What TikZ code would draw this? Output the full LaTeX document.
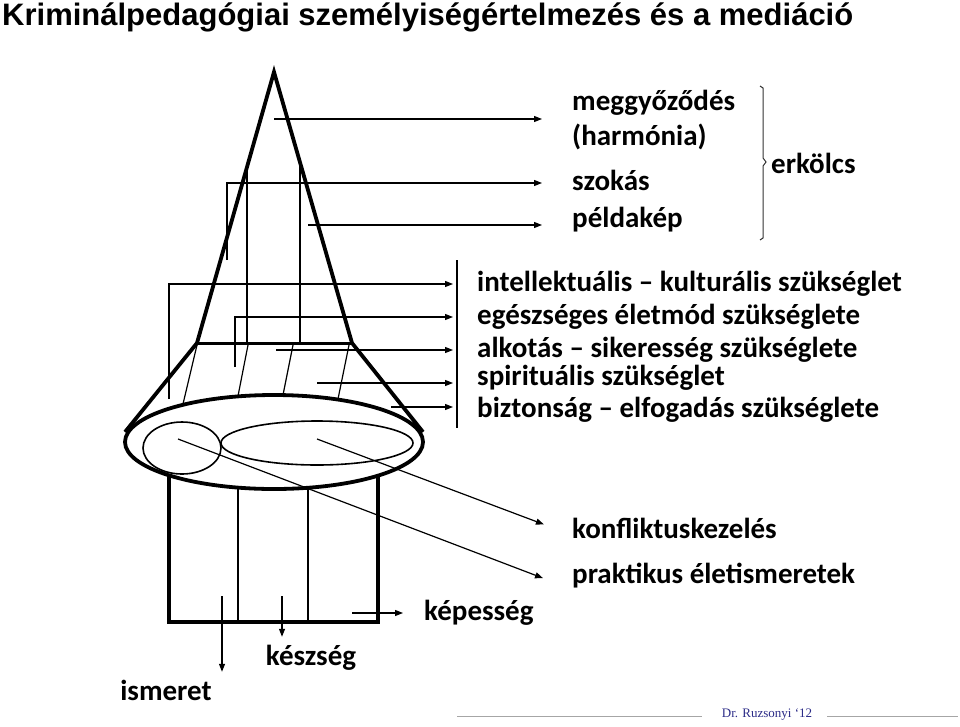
\documentclass[tikz,border=0pt]{standalone}
\usepackage{fontspec}
\setmainfont{Carlito}
\newfontfamily\titlefont{Liberation Sans}
\newfontfamily\footfont{Liberation Serif}
\usetikzlibrary{arrows.meta}
\definecolor{footblue}{RGB}{43,43,135}

\begin{document}
\begin{tikzpicture}[x=1pt, y=-1pt,
		heavy/.style={line width=3.8pt},
		fine/.style={line width=1.2pt},
		arr/.style={fine, -{Triangle[length=8pt,width=6pt]}},
		lbl/.style={font=\bfseries\fontsize{29}{35}\selectfont, inner sep=0pt, anchor=west},
		ln/.style={lbl, text height=20pt, text depth=6pt}]
		\useasboundingbox (0,0) rectangle (960,726);
		
		\node[anchor=base west, inner sep=0pt, font=\titlefont\bfseries\fontsize{31}{36}\selectfont] (title) at (2,25) {Kriminálpedagógiai személyiségértelmezés és a mediáció};
		
		\draw[heavy] (197,343) -- (274,72) -- (352,343);
		\draw[line width=3pt] (197,343) -- (352,343);
		\draw[heavy] (197,343) -- (125,432);
		\draw[heavy] (352,343) -- (423,432);
		\draw[heavy] (274,442) ellipse (149pt and 47pt);
		\draw[line width=1.6pt] (182,448) ellipse (39pt and 26pt);
		\draw[line width=1.6pt] (317,443) ellipse (96pt and 22pt);
		\draw[heavy] (169,475) -- (169,622) -- (378,622) -- (378,475);
		
		\draw[fine] (238,488) -- (238,622);
		\draw[fine] (308,488) -- (308,622);
		\draw[fine] (247,167) -- (247,343);
		\draw[fine] (300,162) -- (300,343);
		\draw[fine] (197,345) -- (183,404);
		\draw[fine] (248,345) -- (238,396);
		\draw[fine] (293,345) -- (283,395);
		\draw[fine] (349,345) -- (338,399);
		
		\node[lbl, align=left] (meggy) at (572,120) {meggyőződés\\(harmónia)};
		\node[ln] (szokas) at (572,183) {szokás};
		\node[ln] (pelda) at (572,220) {példakép};
		\node[ln] (erkolcs) at (771,166) {erkölcs};
		\draw[line width=1pt, black!80] (760,86) -- (763,88) -- (763,158) -- (766,162) -- (763,166) -- (763,238) -- (760,240);
		
		\coordinate (cMeggy) at (274,119);
		\coordinate (cSzokas) at (227,260);
		\coordinate (cPelda) at (308,225);
		\draw[arr, shorten >=30pt] (cMeggy) -- (cMeggy -| meggy.west);
		\draw[arr, shorten >=30pt] (cSzokas) |- (szokas.west);
		\draw[arr, shorten >=30pt] (cPelda) -- (cPelda -| pelda.west);
		
		\node[ln] (intel) at (477,284) {intellektuális – kulturális szükséglet};
		\node[ln] (egesz) at (477,317) {egészséges életmód szükséglete};
		\node[ln] (alkot) at (477,350) {alkotás – sikeresség szükséglete};
		\node[ln] (spir) at (477,378) {spirituális szükséglet};
		\node[ln] (bizt) at (477,410) {biztonság – elfogadás szükséglete};
		\coordinate (barTop) at (457,260);
		\coordinate (barBot) at (457,428);
		\draw[fine] (barTop) -- (barBot);
		
		\coordinate (cIntel) at (169,399);
		\coordinate (cEgesz) at (235,367);
		\coordinate (cAlkot) at (276,350);
		\coordinate (cSpir) at (317,383);
		\coordinate (cBizt) at (391,407);
		\draw[arr, shorten >=24pt] (cIntel) |- (intel.west);
		\draw[arr, shorten >=24pt] (cEgesz) |- (egesz.west);
		\draw[arr, shorten >=24pt] (cAlkot) -- (cAlkot -| alkot.west);
		\draw[arr, shorten >=24pt] (cSpir) -- (cSpir -| spir.west);
		\draw[arr, shorten >=24pt] (cBizt) -- (cBizt -| bizt.west);
		
		\node[ln] (konf) at (572,531) {konfliktuskezelés};
		\node[ln] (prak) at (572,576) {praktikus életismeretek};
		\node[ln] (kep) at (424,613) {képesség};
		\node[ln, anchor=base] (kes) at (311,665) {készség};
		\node[ln, anchor=base] (ism) at (166,700) {ismeret};
		
		\coordinate (cKonf) at (317,439);
		\coordinate (cPrak) at (178,439);
		\coordinate (cKep) at (352,613);
		\coordinate (cKes) at (282,596);
		\coordinate (cIsm) at (222,596);
		\draw[arr, shorten >=30pt] (cKonf) -- ([yshift=-4pt]konf.west);
		\draw[arr, shorten >=31pt] (cPrak) -- (prak.south west);
		\draw[arr, shorten >=21pt] (cKep) -- (kep.west);
		\draw[arr, shorten >=8pt] (cKes) -- (cKes |- kes.north);
		\draw[arr, shorten >=8pt] (cIsm) -- (cIsm |- ism.north);
		
		\node[anchor=base, inner sep=0pt, text=footblue, font=\footfont\fontsize{13}{15}\selectfont] (sig) at (767,717) {Dr. Ruzsonyi ‘12};
		\draw[gray!70, line width=0.8pt] (457,716) -- (702,716);
		\draw[gray!70, line width=0.8pt] (827,716) -- (958,716);
\end{tikzpicture}
\end{document}
